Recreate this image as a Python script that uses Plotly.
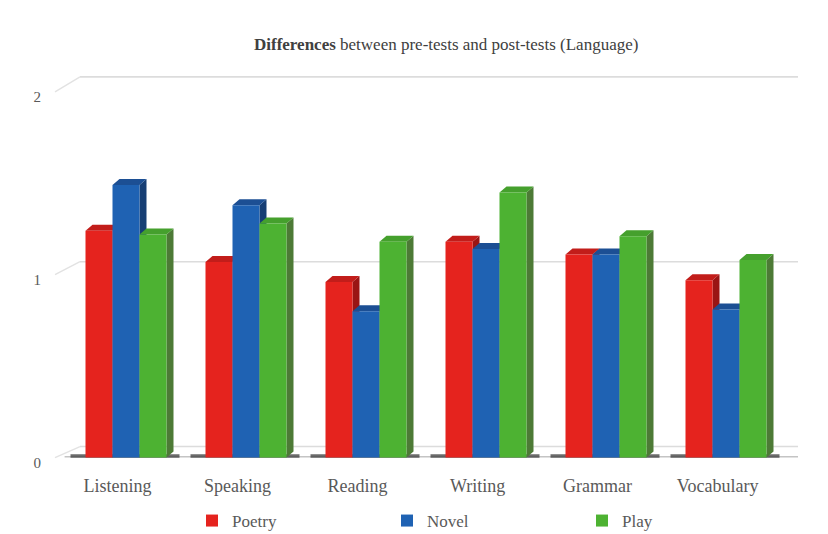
import plotly.graph_objects as go

# Mean differences between pre-tests and post-tests, by skill and literary genre
categories = ["Listening", "Speaking", "Reading", "Writing", "Grammar", "Vocabulary"]
poetry = [1.24, 1.07, 0.96, 1.18, 1.11, 0.97]
novel = [1.49, 1.38, 0.80, 1.14, 1.11, 0.81]
play = [1.22, 1.28, 1.18, 1.45, 1.21, 1.08]
y_ticks = [0, 1, 2]
chart_title = "<b>Differences</b> between pre-tests and post-tests (Language)"

series = [
    ("Poetry", poetry, "#E5231E", "#C21D1A", "#9A1514"),
    ("Novel", novel, "#1F62B3", "#1C4F94", "#163E74"),
    ("Play", play, "#4DB232", "#45A02D", "#4D7A36"),
]

# geometry (pixels -> data units)
W, H = 828, 534
ML, MR, MT, MB = 54, 12, 37, 71
X0, X1 = -0.6, 5.75
Y0, Y1 = -0.03, 2.3
px_x = (W - ML - MR) / (X1 - X0)
px_y = (H - MT - MB) / (Y1 - Y0)
BARGAP = 0.325
bar_w = (1 - BARGAP) / 3
dx = 7 / px_x          # depth offset of bar side/top faces
dy = 6 / px_y

xs = list(range(len(categories)))

fig = go.Figure()
for name, vals, front, _, _ in series:
    fig.add_trace(go.Bar(
        x=xs, y=vals, name=name,
        marker=dict(color=front, line=dict(width=0)),
    ))

shapes = []
font_family = "Liberation Serif"

# back wall gridlines with perspective diagonals at the left edge
x_front_left = (55 - 126) / px_x
x_back_left = (80 - 126) / px_x
x_back_right = (798 - 126) / px_x
for v in y_ticks:
    back = v + (11 + 2 * v) / px_y
    shapes.append(dict(type="line", xref="x", yref="y", layer="below",
                       x0=x_back_left, x1=x_back_right, y0=back, y1=back,
                       line=dict(color="#DCDCDC", width=1.6)))
    shapes.append(dict(type="line", xref="x", yref="y", layer="below",
                       x0=x_front_left, x1=x_back_left, y0=v, y1=back,
                       line=dict(color="#E2E2E2", width=1.4)))

# floor edge and shadows under each group
shapes.append(dict(type="line", xref="x", yref="y", layer="below",
                   x0=x_front_left + 0.08, x1=x_back_right, y0=0.004, y1=0.004,
                   line=dict(color="#C4C4C4", width=1.5)))
for i in xs:
    gl = i - 1.5 * bar_w
    gr = i + 1.5 * bar_w + dx
    shapes.append(dict(type="line", xref="x", yref="y", layer="below",
                       x0=gl - 15 / px_x, x1=gr + 6 / px_x, y0=0.008, y1=0.008,
                       line=dict(color="rgba(70,70,70,0.8)", width=3.5)))

# side and top faces of each column
for k, (name, vals, front, top, side) in enumerate(series):
    for i, v in zip(xs, vals):
        xl = i + (k - 1.5) * bar_w
        xr = xl + bar_w
        shapes.append(dict(
            type="path", xref="x", yref="y", layer="below",
            path=f"M{xr},{0} L{xr},{v} L{xr + dx},{v + dy} L{xr + dx},{dy} Z",
            fillcolor=side, line=dict(width=0)))
        shapes.append(dict(
            type="path", xref="x", yref="y", layer="below",
            path=f"M{xl},{v} L{xr},{v} L{xr + dx},{v + dy} L{xl + dx},{v + dy} Z",
            fillcolor=top, line=dict(width=0)))

fig.update_layout(
    width=W, height=H,
    font=dict(family=font_family, color="#595959"),
    margin=dict(l=ML, r=MR, t=MT, b=MB, autoexpand=False),
    paper_bgcolor="white", plot_bgcolor="rgba(0,0,0,0)",
    barmode="group", bargap=BARGAP, bargroupgap=0,
    shapes=shapes,
    annotations=[dict(
        text=chart_title, showarrow=False,
        xref="paper", x=(446 - ML) / (W - ML - MR), xanchor="center",
        yref="paper", y=1 + (MT - 44) / (H - MT - MB), yanchor="middle",
        font=dict(family=font_family, size=17, color="#404040"),
    )],
    xaxis=dict(
        range=[X0, X1], tickvals=[i - 0.07 for i in xs], ticktext=categories,
        showgrid=False, zeroline=False, showline=False, ticks="",
        ticklabelstandoff=10,
        tickfont=dict(family=font_family, size=18, color="#595959"),
    ),
    yaxis=dict(
        range=[Y0, Y1], tickvals=y_ticks, ticktext=[str(t) for t in y_ticks],
        showgrid=False, zeroline=False, showline=False, ticks="",
        ticklabelstandoff=12, ticklabelshift=5,
        tickfont=dict(family=font_family, size=15, color="#595959"),
    ),
    legend=dict(
        orientation="h", xref="container", yref="container",
        x=192 / W, xanchor="left", y=(H - 521) / H, yanchor="middle",
        entrywidth=150, entrywidthmode="pixels",
        font=dict(family=font_family, size=17, color="#595959"),
        bgcolor="rgba(0,0,0,0)",
    ),
    showlegend=True,
)

fig.write_html("out.html")
